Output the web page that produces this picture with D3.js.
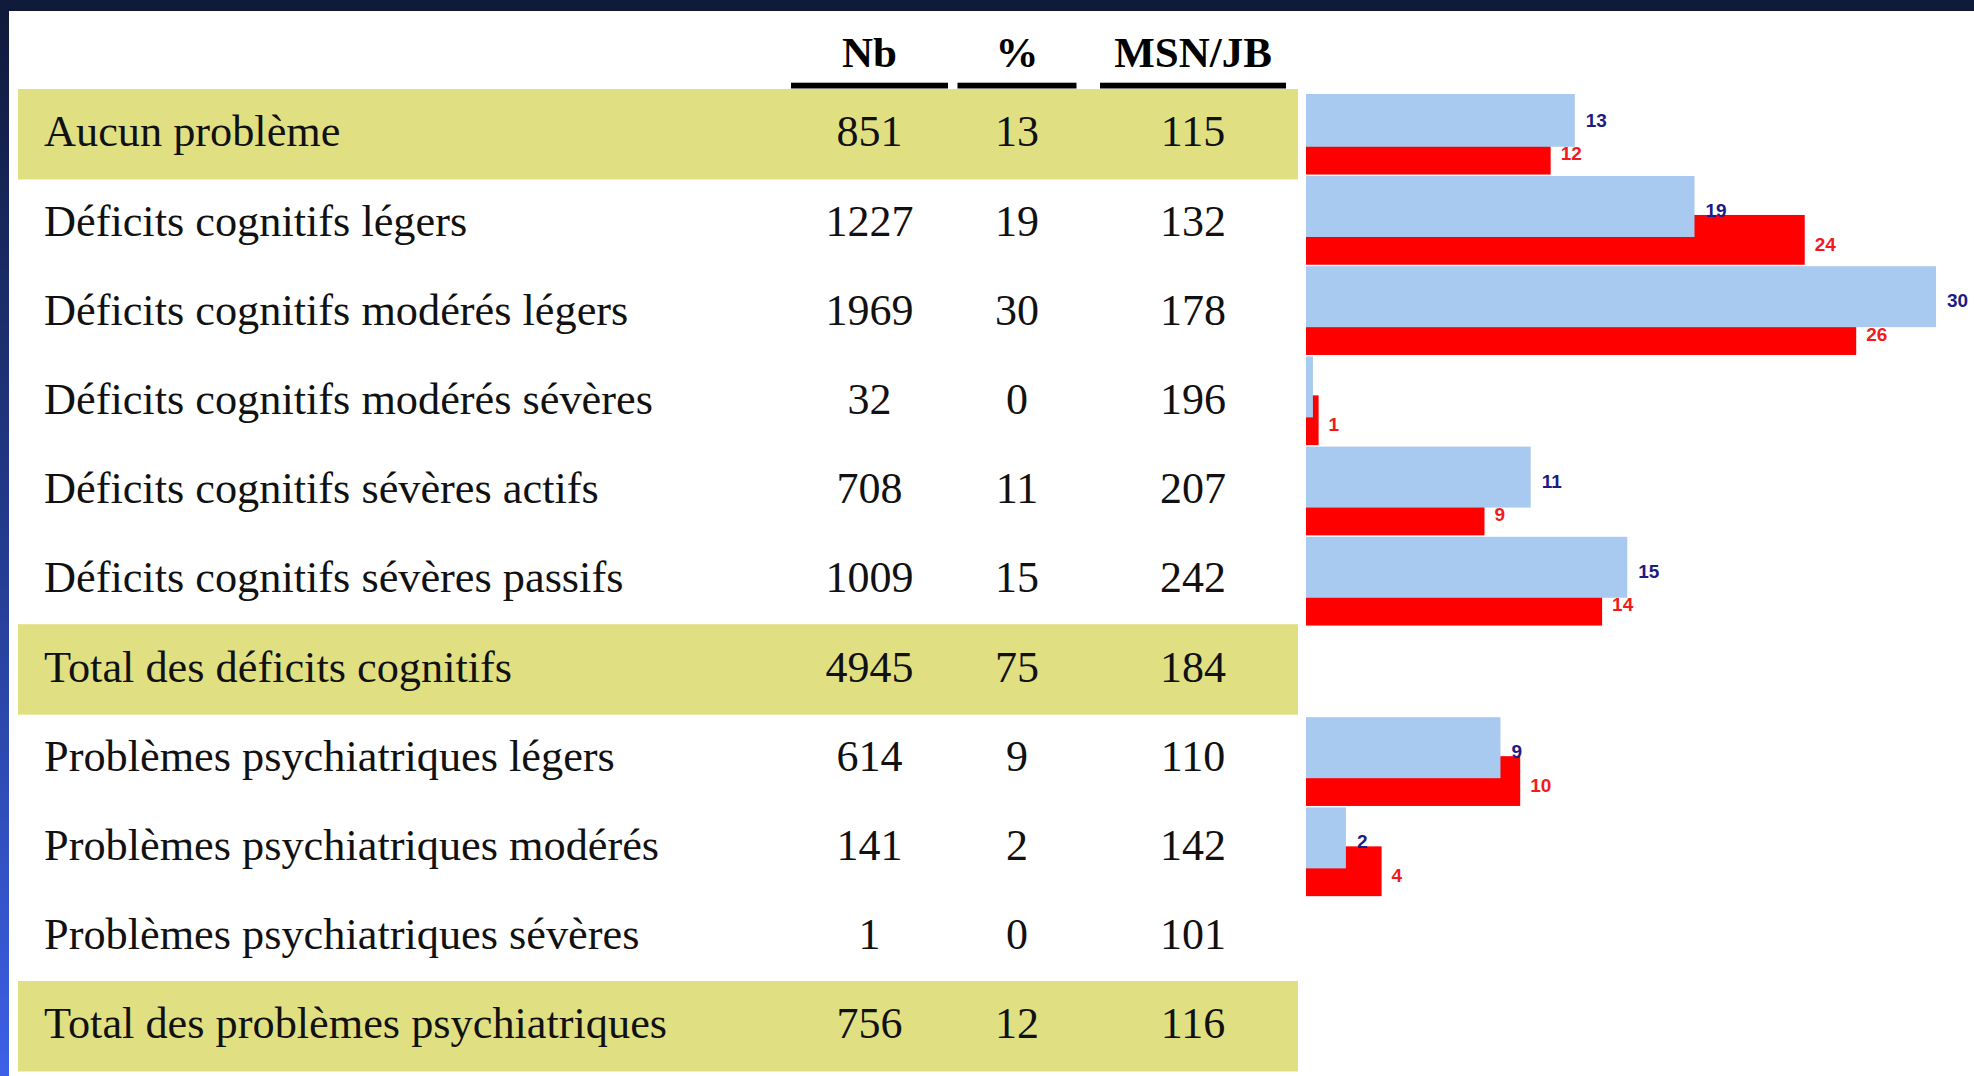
<!DOCTYPE html>
<html>
<head>
<meta charset="utf-8">
<script src="https://cdn.jsdelivr.net/npm/d3@7"></script>
<style>
  html, body { margin: 0; padding: 0; overflow: hidden; }
  body { width: 1974px; height: 1076px; }
</style>
</head>
<body>
<div id="chart"></div>
<script>
// table rows
const categories = [
    "Aucun problème",
    "Déficits cognitifs légers",
    "Déficits cognitifs modérés légers",
    "Déficits cognitifs modérés sévères",
    "Déficits cognitifs sévères actifs",
    "Déficits cognitifs sévères passifs",
    "Total des déficits cognitifs",
    "Problèmes psychiatriques légers",
    "Problèmes psychiatriques modérés",
    "Problèmes psychiatriques sévères",
    "Total des problèmes psychiatriques"
];
const totalRows = ["Aucun problème", "Total des déficits cognitifs", "Total des problèmes psychiatriques"];

const columns = ["Nb", "%", "MSN/JB"];
const nbValues = [851, 1227, 1969, 32, 708, 1009, 4945, 614, 141, 1, 756];
const pctValues = [13, 19, 30, 0, 11, 15, 75, 9, 2, 0, 12];
const msnValues = [115, 132, 178, 196, 207, 242, 184, 110, 142, 101, 116];

// bars (%); null = no bar
const blueValues = [12.8, 18.5, 30.0, 0.33, 10.7, 15.3, null, 9.26, 1.9, null, null];
const redValues = [11.65, 23.75, 26.2, 0.6, 8.5, 14.1, null, 10.2, 3.6, null, null];

const W = 1974, H = 1076;

var svg = d3.select("#chart").append("svg")
    .attr("width", W)
    .attr("height", H);

// background
let defs = svg.append("defs");
let grad = defs.append("linearGradient")
    .attr("id", "bg")
    .attr("x1", 0).attr("y1", 0).attr("x2", 0).attr("y2", 1);
grad.append("stop").attr("offset", "0%").attr("stop-color", "#0f1939");
grad.append("stop").attr("offset", "50%").attr("stop-color", "#233b8e");
grad.append("stop").attr("offset", "100%").attr("stop-color", "#3d60e6");

defs.append("clipPath").attr("id", "barclip")
    .append("rect")
    .attr("x", 1300).attr("y", 94)
    .attr("width", W - 1300).attr("height", H - 94);

svg.append("rect").attr("width", W).attr("height", H).attr("fill", "url(#bg)");
svg.append("rect")
    .attr("x", 9).attr("y", 11)
    .attr("width", W - 9).attr("height", H - 11)
    .attr("fill", "#ffffff");

// scales
let rowY = d3.scaleBand()
    .domain(categories)
    .range([89, 89 + categories.length * 89.2]);

let colX = d3.scaleOrdinal()
    .domain(columns)
    .range([869.5, 1017, 1193]);
let colW = d3.scaleOrdinal()
    .domain(columns)
    .range([157, 119, 186]);

let barY = d3.scaleBand()
    .domain(categories)
    .range([85.8, 85.8 + categories.length * 90.2]);

let x = d3.scaleLinear()
    .domain([0, 30])
    .range([1306, 1936]);

let rows = categories.map(function(c, i) {
    return {
        name: c,
        cells: [nbValues[i], pctValues[i], msnValues[i]],
        blue: blueValues[i],
        red: redValues[i]
    };
});

const serif = "'Liberation Serif', 'Times New Roman', serif";

// highlighted total rows
svg.append("g").selectAll("rect")
    .data(rows.filter(function(d) { return totalRows.indexOf(d.name) >= 0; }))
    .enter().append("rect")
    .attr("x", 18)
    .attr("y", function(d) { return rowY(d.name); })
    .attr("width", 1298 - 18)
    .attr("height", rowY.bandwidth() + 1.3)
    .attr("fill", "#e0e083");

// header
let header = svg.append("g");
header.selectAll("text")
    .data(columns)
    .enter().append("text")
    .attr("x", function(d) { return colX(d); })
    .attr("y", 66.5)
    .attr("text-anchor", "middle")
    .style("font-family", serif)
    .style("font-weight", "bold")
    .style("font-size", "43px")
    .text(function(d) { return d; });

header.selectAll("rect")
    .data(columns)
    .enter().append("rect")
    .attr("x", function(d) { return colX(d) - colW(d) / 2; })
    .attr("y", 82.7)
    .attr("width", function(d) { return colW(d); })
    .attr("height", 5.8)
    .attr("fill", "#000");

// table body
let rowG = svg.append("g").selectAll("g")
    .data(rows)
    .enter().append("g")
    .attr("transform", function(d) { return "translate(0," + (rowY(d.name) + 57.3) + ")"; });

rowG.append("text")
    .attr("x", 44)
    .style("font-family", serif)
    .style("font-size", "44.3px")
    .attr("fill", "#111")
    .text(function(d) { return d.name; });

rowG.selectAll("text.cell")
    .data(function(d) { return d.cells; })
    .enter().append("text")
    .attr("class", "cell")
    .attr("x", function(d, i) { return colX(columns[i]); })
    .attr("text-anchor", "middle")
    .style("font-family", serif)
    .style("font-size", "44px")
    .attr("fill", "#111")
    .text(function(d) { return d; });

// bars
let bars = svg.append("g").attr("clip-path", "url(#barclip)");
let step = barY.step();

let redRows = rows.filter(function(d) { return d.red != null; });
let blueRows = rows.filter(function(d) { return d.blue != null; });

bars.selectAll("rect.red")
    .data(redRows)
    .enter().append("rect")
    .attr("class", "red")
    .attr("x", x(0))
    .attr("y", function(d) { return barY(d.name) + step * 0.432; })
    .attr("width", function(d) { return x(d.red) - x(0); })
    .attr("height", step * 0.552)
    .attr("fill", "#ff0000");

bars.selectAll("rect.blue")
    .data(blueRows)
    .enter().append("rect")
    .attr("class", "blue")
    .attr("x", x(0))
    .attr("y", function(d) { return barY(d.name); })
    .attr("width", function(d) { return x(d.blue) - x(0); })
    .attr("height", step * 0.676)
    .attr("fill", "#a8caf0");

// value labels
const sans = "'Liberation Sans', Arial, sans-serif";

svg.append("g").selectAll("text")
    .data(blueRows.filter(function(d) { return Math.round(d.blue) > 0; }))
    .enter().append("text")
    .attr("x", function(d) { return x(d.blue) + 11; })
    .attr("y", function(d) { return barY(d.name) + 34 + 7; })
    .style("font-family", sans)
    .style("font-weight", "bold")
    .style("font-size", "19px")
    .attr("fill", "#1c1c82")
    .text(function(d) { return Math.round(d.blue); });

svg.append("g").selectAll("text")
    .data(redRows)
    .enter().append("text")
    .attr("x", function(d) { return x(d.red) + 10; })
    .attr("y", function(d) { return barY(d.name) + 67.5 + 7; })
    .style("font-family", sans)
    .style("font-weight", "bold")
    .style("font-size", "19px")
    .attr("fill", "#f21b1b")
    .text(function(d) { return Math.round(d.red); });
</script>
</body>
</html>
